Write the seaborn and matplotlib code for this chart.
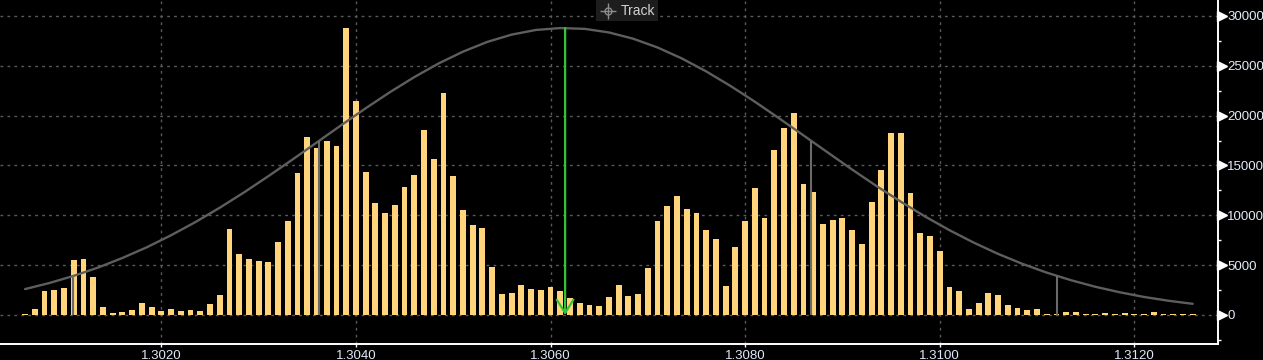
import numpy as np
import pandas as pd
import matplotlib
matplotlib.use("Agg")
import matplotlib.pyplot as plt
import matplotlib.transforms as mtransforms
from matplotlib.patches import Rectangle
from matplotlib.lines import Line2D
from matplotlib.ticker import MultipleLocator, FixedLocator, FormatStrFormatter
import seaborn as sns

# ---------------- data ----------------
# price bins (one bar per pip, 1.3006 .. 1.3126)
prices = np.round(1.3006 + 0.0001 * np.arange(121), 4)
volumes = [
    100, 600, 2400, 2500, 2700, 5500, 5600, 3800, 800, 200,          # 1.3006-1.3015
    300, 500, 1200, 800, 400, 600, 400, 500, 400, 1100,              # 1.3016-1.3025
    2000, 8600, 6100, 5600, 5400, 5300, 7300, 9400, 14250, 17850,    # 1.3026-1.3035
    16750, 17450, 16950, 28800, 21450, 14350, 11250, 10250, 11050, 12850,  # 1.3036-1.3045
    14050, 18550, 15650, 22250, 13950, 10550, 9050, 8750, 4800, 2100,      # 1.3046-1.3055
    2200, 3000, 2600, 2500, 2800, 2400, 1700, 1200, 1000, 900,       # 1.3056-1.3065
    1800, 3000, 1900, 2100, 4700, 9400, 10950, 11950, 10650, 10250,  # 1.3066-1.3075
    8550, 7600, 2900, 6800, 9450, 12750, 9750, 16550, 18750, 20250,  # 1.3076-1.3085
    13150, 12350, 9150, 9550, 9750, 8550, 7150, 11350, 14550, 18250, # 1.3086-1.3095
    18250, 12250, 8250, 7950, 6400, 2800, 2400, 600, 1200, 2200,     # 1.3096-1.3105
    2000, 1000, 700, 500, 600, 100, 50, 300, 300, 100,               # 1.3106-1.3115
    100, 200, 100, 200, 100, 100, 300, 100, 50, 50,                  # 1.3116-1.3125
    50,                                                              # 1.3126
]

# fitted distribution curve (every 0.00025)
curve_prices = np.round(1.3006 + 0.00025 * np.arange(49), 5)
curve_values = [2600, 3210, 3930, 4760, 5720, 6790, 8000, 9320, 10760, 12300,
                13930, 15610, 17330, 19050, 20740, 22360, 23870, 25240, 26420,
                27400, 28130, 28600, 28790, 28710, 28350, 27720, 26840, 25740,
                24440, 22980, 21400, 19730, 18020, 16300, 14590, 12940, 11370,
                9880, 8510, 7260, 6130, 5130, 4250, 3490, 2830, 2280, 1810,
                1430, 1120]

# sigma markers (vertical gray lines)
sigma_prices = [1.30109, 1.30362, 1.30868, 1.31121]
sigma_heights = [3900, 17470, 17470, 3900]

# track marker
track_price = 1.30615
track_top = 28800

x_ticks = [1.3020, 1.3040, 1.3060, 1.3080, 1.3100, 1.3120]
y_ticks = [0, 5000, 10000, 15000, 20000, 25000, 30000]

# ---------------- style ----------------
sns.set_style("dark")
plt.rcParams['font.family'] = ['Liberation Sans', 'DejaVu Sans']

W, H = 1263, 360
fig = plt.figure(figsize=(W / 100, H / 100), dpi=100, facecolor='black')
ax = fig.add_axes([0, 16 / H, 1217.7 / W, 344 / H])
ax.set_facecolor('black')

df = pd.DataFrame({'price': prices, 'volume': volumes})
sns.barplot(data=df, x='price', y='volume', native_scale=True, orient='x',
            width=0.6, color='#ffd47a', saturation=1, errorbar=None,
            linewidth=0, ax=ax, zorder=2)

sns.lineplot(x=curve_prices, y=curve_values, color='#5e5e5e', lw=1.7,
             ax=ax, zorder=3)

ax.vlines(sigma_prices, 0, sigma_heights, color='#6a6a6a', lw=1.5, zorder=3)

ax.annotate('', xy=(track_price, 0), xytext=(track_price, track_top),
            arrowprops=dict(arrowstyle='->,head_length=0.95,head_width=0.6',
                            mutation_scale=10,
                            color='#33c433', lw=1.6, shrinkA=0, shrinkB=0),
            zorder=4)

ax.set_xlim(1.300342, 1.312857)
ax.set_ylim(-2910, 31605)

# grid
ax.set_axisbelow(True)
ax.xaxis.set_major_locator(FixedLocator(x_ticks))
ax.yaxis.set_major_locator(FixedLocator(y_ticks))
ax.yaxis.set_minor_locator(MultipleLocator(2500))
ax.grid(True, which='major', color='#5a5a5a', linestyle=(0, (2, 3)), lw=1)
ax.grid(False, which='minor')

# spines
for s in ['left', 'top']:
    ax.spines[s].set_visible(False)
for s in ['right', 'bottom']:
    ax.spines[s].set_visible(True)
    ax.spines[s].set_color('white')
    ax.spines[s].set_linewidth(1.4)

ax.set_xlabel('')
ax.set_ylabel('')

# x ticks
ax.xaxis.set_major_formatter(FormatStrFormatter('%.4f'))
ax.tick_params(axis='x', which='major', direction='out', length=2.5, width=1,
               color='white', labelcolor='#dfe9f8', labelsize=9.5, pad=1.5,
               bottom=True)

# y ticks on the right
ax.yaxis.tick_right()
ax.tick_params(axis='y', which='major', length=0, labelcolor='#e4ecf8',
               labelsize=9.5, pad=6.8, right=True, left=False)
ax.tick_params(axis='y', which='minor', direction='out', length=2.3, width=1,
               color='white', right=True, left=False)

# triangle markers for major y ticks
tri_tr = ax.get_yaxis_transform() + mtransforms.ScaledTranslation(4.3 / 100, 0, fig.dpi_scale_trans)
ax.plot([1] * len(y_ticks), y_ticks, transform=tri_tr, marker='>', ms=6.5,
        color='white', ls='none', clip_on=False, zorder=6)

# "Track" legend box
fig.add_artist(Rectangle((595.7 / W, 1 - 20.7 / H), (658 - 595.7) / W, 20.7 / H,
                         transform=fig.transFigure, facecolor='#1d1d1d',
                         edgecolor='none', zorder=5))
fig.add_artist(Line2D([607.7 / W], [1 - 10.7 / H], marker='o', ms=5,
                      mfc='none', mec='#8c8c8c', mew=1,
                      transform=fig.transFigure, zorder=6))
fig.add_artist(Line2D([607.7 / W], [1 - 10.7 / H], marker='+', ms=11,
                      mec='#8c8c8c', mew=1,
                      transform=fig.transFigure, zorder=6))
fig.text(621 / W, 1 - 10.8 / H, 'Track', color='#d2d2d2', fontsize=10,
         ha='left', va='center', zorder=7)

fig.savefig('out.png', dpi=100, facecolor='black')
